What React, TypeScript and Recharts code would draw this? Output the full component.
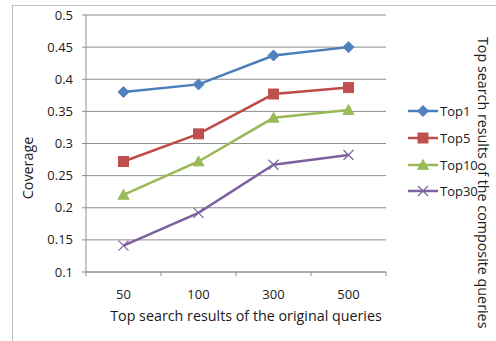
import React from 'react';
import { LineChart, Line, XAxis, YAxis, CartesianGrid, Label } from 'recharts';

const categories = ['50', '100', '300', '500'];
const top1 = [0.38, 0.392, 0.437, 0.45];
const top5 = [0.272, 0.315, 0.377, 0.387];
const top10 = [0.22, 0.272, 0.34, 0.352];
const top30 = [0.141, 0.192, 0.267, 0.282];
const yTicks = [0.1, 0.15, 0.2, 0.25, 0.3, 0.35, 0.4, 0.45, 0.5];
const seriesNames = ['Top1', 'Top5', 'Top10', 'Top30'];
const xTitle = 'Top search results of the original queries';
const yTitle = 'Coverage';
const rightTitle = 'Top search results of the composite queries';

const colors = ['#4A7EBB', '#BE4B48', '#98B954', '#7D60A0'];
const markerColors = ['#4F81BD', '#C0504D', '#9BBB59', '#8064A2'];
const shapes = ['diamond', 'square', 'triangle', 'cross'];

const data = categories.map((c, i) => ({
  cat: c,
  Top1: top1[i],
  Top5: top5[i],
  Top10: top10[i],
  Top30: top30[i],
}));

const FONT = '"Open Sans", Lato, sans-serif';
const GRID = '#8E8E8E';
const TXT = '#1a1a1a';

function Marker({ shape, cx, cy, color }: { shape: string; cx: number; cy: number; color: string }) {
  if (cx == null || cy == null) return null;
  if (shape === 'diamond') {
    const r = 5.5;
    return <polygon points={`${cx},${cy - r} ${cx + r},${cy} ${cx},${cy + r} ${cx - r},${cy}`} fill={color} stroke={color} />;
  }
  if (shape === 'square') {
    const r = 5;
    return <rect x={cx - r} y={cy - r} width={2 * r} height={2 * r} fill={color} stroke={color} />;
  }
  if (shape === 'triangle') {
    const r = 5.5;
    return <polygon points={`${cx},${cy - r} ${cx + r},${cy + r * 0.8} ${cx - r},${cy + r * 0.8}`} fill={color} stroke={color} />;
  }
  const r = 5;
  return (
    <g stroke={color} strokeWidth={1.3}>
      <line x1={cx - r} y1={cy - r} x2={cx + r} y2={cy + r} />
      <line x1={cx - r} y1={cy + r} x2={cx + r} y2={cy - r} />
    </g>
  );
}

const HALF_BAND = 37.5;

function XTick(props: any) {
  const { x, y, payload, index } = props;
  const axisY = y - 4 - 14;
  const n = categories.length;
  return (
    <g>
      <line x1={x - HALF_BAND} y1={axisY} x2={x - HALF_BAND} y2={axisY + 4} stroke={GRID} />
      {index === n - 1 && <line x1={x + HALF_BAND} y1={axisY} x2={x + HALF_BAND} y2={axisY + 4} stroke={GRID} />}
      <text x={x} y={y} dy="0.71em" textAnchor="middle" fill={TXT} fontSize={13} fontFamily={FONT}>
        {payload.value}
      </text>
    </g>
  );
}

function LegendBox() {
  return (
    <div style={{ position: 'absolute', left: 407, top: 98, fontFamily: FONT, fontSize: 13, color: TXT }}>
      {seriesNames.map((name, i) => (
        <div key={name} style={{ height: 26.7, display: 'flex', alignItems: 'center' }}>
          <svg width={32} height={14} style={{ display: 'block' }}>
            <line x1={1} y1={7} x2={31} y2={7} stroke={colors[i]} strokeWidth={2.5} />
            <Marker shape={shapes[i]} cx={16} cy={7} color={markerColors[i]} />
          </svg>
          <span style={{ marginLeft: 1 }}>{name}</span>
        </div>
      ))}
    </div>
  );
}

export default function App() {
  return (
    <div style={{ position: 'absolute', left: 0, top: 0, width: 496, height: 341, background: '#fff', fontFamily: FONT }}>
      <div
        style={{
          position: 'absolute',
          left: 12,
          top: 5,
          right: 0,
          bottom: 0,
          borderLeft: '1px solid #BDBDBD',
          borderTop: '1px solid #BDBDBD',
        }}
      />
      <div style={{ position: 'absolute', left: 0, top: 0 }}>
        <LineChart width={496} height={341} data={data} margin={{ top: 15, right: 110, bottom: 0, left: 0 }}>
          <CartesianGrid vertical={false} stroke={GRID} strokeWidth={1} />
          <XAxis
            dataKey="cat"
            height={69}
            padding={{ left: HALF_BAND, right: HALF_BAND }}
            axisLine={{ stroke: GRID }}
            tickLine={false}
            tickSize={4}
            tickMargin={14}
            tick={<XTick />}
            interval={0}
          >
            <Label
              content={() => (
                <text x={246} y={315} textAnchor="middle" dominantBaseline="central" fontSize={14.3} fill={TXT} fontFamily={FONT}>
                  {xTitle}
                </text>
              )}
            />
          </XAxis>
          <YAxis
            width={86}
            domain={[0.1, 0.5]}
            ticks={yTicks}
            interval={0}
            axisLine={{ stroke: GRID }}
            tickLine={{ stroke: GRID }}
            tickSize={4}
            tickMargin={9}
            tick={{ fill: TXT, fontSize: 13, fontFamily: FONT }}
          >
            <Label
              content={() => (
                <text
                  x={27}
                  y={168}
                  textAnchor="middle"
                  dominantBaseline="central"
                  transform="rotate(-90 27 168)"
                  fontSize={14.3}
                  fill={TXT}
                  fontFamily={FONT}
                >
                  {yTitle}
                </text>
              )}
            />
          </YAxis>
          {seriesNames.map((name, i) => (
            <Line
              key={name}
              type="linear"
              dataKey={name}
              stroke={colors[i]}
              strokeWidth={2.5}
              isAnimationActive={false}
              dot={(p: any) => <Marker key={`${name}-${p.index}`} shape={shapes[i]} cx={p.cx} cy={p.cy} color={markerColors[i]} />}
              activeDot={false}
            />
          ))}
        </LineChart>
      </div>
      <LegendBox />
      <div
        style={{
          position: 'absolute',
          left: 475,
          top: 37,
          writingMode: 'vertical-rl',
          fontSize: 14.3,
          lineHeight: '17px',
          color: TXT,
          whiteSpace: 'nowrap',
          fontFamily: FONT,
        }}
      >
        {rightTitle}
      </div>
    </div>
  );
}
